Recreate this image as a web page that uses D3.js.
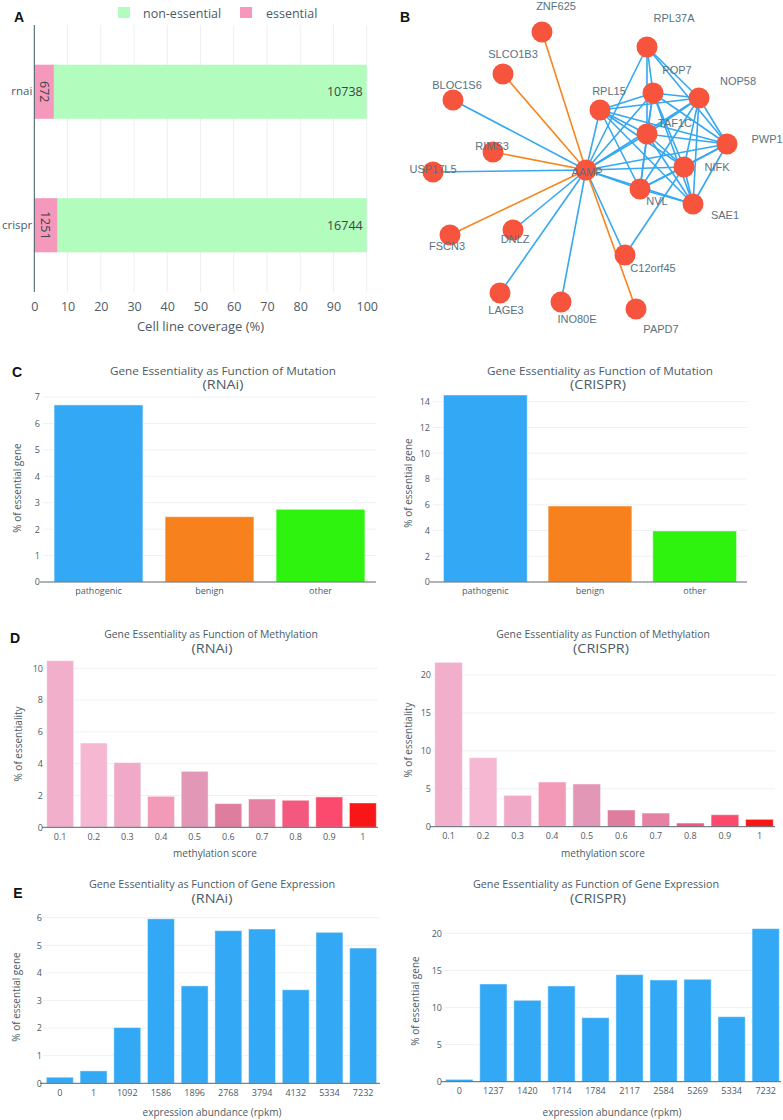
<!DOCTYPE html>
<html><head><meta charset="utf-8">
<script src="https://cdn.jsdelivr.net/npm/d3@7"></script>
<style>body{margin:0;background:#fff}svg{display:block}</style>
</head><body>
<script>
// ---------------- DATA ----------------
const coverageCats = ["rnai", "crispr"];
const essentialCounts = [672, 1251];
const nonEssentialCounts = [10738, 16744];
const coverageTicks = [0,10,20,30,40,50,60,70,80,90,100];
const legendLabels = ["non-essential", "essential"];

const mutationCats = ["pathogenic", "benign", "other"];
const mutationRNAi = [6.70, 2.47, 2.75];
const mutationCRISPR = [14.52, 5.90, 3.96];
const mutationColors = ["#33a9f5", "#f7811c", "#2ef30e"];

const methylationCats = ["0.1","0.2","0.3","0.4","0.5","0.6","0.7","0.8","0.9","1"];
const methylationRNAi = [10.48, 5.30, 4.07, 1.95, 3.52, 1.49, 1.78, 1.70, 1.91, 1.53];
const methylationCRISPR = [21.67, 9.10, 4.13, 5.89, 5.63, 2.20, 1.80, 0.48, 1.58, 0.97];
const methylationColors = ["#f2afcc","#f5b7d2","#f1a9c8","#f39ab9","#e297b6","#df7d9f","#e781a3","#f3597e","#fc4a6e","#f91616"];

const exprCatsRNAi = ["0","1","1092","1586","1896","2768","3794","4132","5334","7232"];
const exprRNAi = [0.22, 0.45, 2.02, 5.96, 3.53, 5.53, 5.59, 3.39, 5.47, 4.90];
const exprCatsCRISPR = ["0","1237","1420","1714","1784","2117","2584","5269","5334","7232"];
const exprCRISPR = [0.31, 13.17, 10.97, 12.90, 8.63, 14.43, 13.71, 13.80, 8.76, 20.63];
const exprColor = "#33a9f5";

// network (layout coordinates in panel units)
const nodeNames = ["ZNF625","SLCO1B3","BLOC1S6","RIMS3","USP17L5","AAMP","FSCN3","DNLZ","LAGE3","INO80E","PAPD7","C12orf45","RPL37A","POP7","NOP58","RPL15","TAF1C","PWP1","NIFK","NVL","SAE1"];
const nodeX = [152,113,63,103,43,196,60,123,110,171,246,235,257,263,309,210,257,337,294,250,303];
const nodeY = [32,74,100,152,172,170,235,230,293,302,309,255,47,93,98,110,134,144,167,189,204];
const labelX = [166,123,67,102,43,197,57,125,116,187,271,263,284,287,348,219,285,377,327,267,335];
const labelY = [6,54,85,146,169,172,246,239,310,319,329,268,18,70,81,91,123,139,167,201,215];
const hub = "AAMP";
const orangeLinks = ["ZNF625","SLCO1B3","RIMS3","FSCN3","PAPD7"];
const blueHubLinks = ["BLOC1S6","USP17L5","DNLZ","LAGE3","INO80E","C12orf45","RPL15","RPL37A","POP7","NOP58","TAF1C","PWP1","NIFK","NVL","SAE1"];
const clusterLinks = [
 ["RPL15","POP7"],["RPL15","NOP58"],["RPL15","TAF1C"],["RPL15","PWP1"],["RPL15","NIFK"],["RPL15","NVL"],["RPL15","SAE1"],
 ["POP7","NOP58"],["POP7","TAF1C"],["POP7","PWP1"],["POP7","NIFK"],["POP7","NVL"],["POP7","SAE1"],
 ["NOP58","TAF1C"],["NOP58","PWP1"],["NOP58","NIFK"],["NOP58","NVL"],["NOP58","SAE1"],
 ["TAF1C","PWP1"],["TAF1C","NIFK"],["TAF1C","NVL"],["TAF1C","SAE1"],
 ["PWP1","NIFK"],["PWP1","NVL"],["PWP1","SAE1"],
 ["NIFK","NVL"],["NIFK","SAE1"],["NVL","SAE1"],
 ["RPL37A","POP7"],["RPL37A","NOP58"],["RPL37A","PWP1"],["RPL37A","TAF1C"],
 ["C12orf45","NIFK"]
];

// ---------------- DRAW ----------------
const W = 783, H = 1120;
const TXT = "#4c5b66";
const PF = "'Open Sans', 'DejaVu Sans', sans-serif";
const svg = d3.select("body").append("svg").attr("width", W).attr("height", H);
svg.append("rect").attr("width", W).attr("height", H).attr("fill", "#fff");

function letter(t, x, y) {
  svg.append("text").attr("x", x).attr("y", y).attr("text-anchor","middle").attr("dominant-baseline","central")
    .attr("font-family","'Liberation Sans', Arial, sans-serif").attr("font-weight","bold").attr("font-size",14).attr("fill","#111").text(t);
}

// ---- Panel A ----
(function(){
  const x = d3.scaleLinear().domain([0,100]).range([34.3, 366.7]);
  const y = d3.scaleBand().domain(coverageCats).range([25, 292]);
  const g = svg.append("g");
  g.selectAll(".gx").data(coverageTicks.filter(d=>d>0)).join("line")
    .attr("x1", d=>x(d)).attr("x2", d=>x(d)).attr("y1",25).attr("y2",292).attr("stroke","#eceff3");
  const pct = coverageCats.map((c,i)=>100*essentialCounts[i]/(essentialCounts[i]+nonEssentialCounts[i]));
  const bh = y.bandwidth()*0.405;
  const cy = c => y(c) + y.bandwidth()/2;
  g.selectAll(".bn").data(coverageCats).join("rect")
    .attr("x", (c,i)=>x(pct[i])).attr("width",(c,i)=>x(100)-x(pct[i]))
    .attr("y", c=>cy(c)-bh/2).attr("height", bh).attr("fill","#b2fcbe");
  g.selectAll(".be").data(coverageCats).join("rect")
    .attr("x", x(0)).attr("width",(c,i)=>x(pct[i])-x(0))
    .attr("y", c=>cy(c)-bh/2).attr("height", bh).attr("fill","#f598bb");
  g.selectAll(".le").data(coverageCats).join("text")
    .attr("transform",(c,i)=>`translate(${(x(0)+x(pct[i]))/2},${cy(c)}) rotate(90)`)
    .attr("text-anchor","middle").attr("dominant-baseline","central")
    .attr("font-family",PF).attr("font-size",12.5).attr("fill","#444").text((c,i)=>essentialCounts[i]);
  g.selectAll(".ln").data(coverageCats).join("text")
    .attr("x", x(100)-4).attr("y", c=>cy(c)).attr("text-anchor","end").attr("dominant-baseline","central")
    .attr("font-family",PF).attr("font-size",12.5).attr("fill","#444").text((c,i)=>nonEssentialCounts[i]);
  g.append("line").attr("x1",x(0)).attr("x2",x(0)).attr("y1",25).attr("y2",292).attr("stroke","#3d5866").attr("stroke-width",1);
  const xa = g.append("g").attr("transform","translate(0,292)")
    .call(d3.axisBottom(x).tickValues(coverageTicks).tickFormat(d3.format("d")).tickSize(0).tickPadding(10));
  xa.select(".domain").remove();
  xa.selectAll("text").attr("font-family",PF).attr("font-size",12.5).attr("fill",TXT);
  const ya = g.append("g").attr("transform",`translate(${x(0)},0)`)
    .call(d3.axisLeft(y).tickSize(0).tickPadding(2));
  ya.select(".domain").remove();
  ya.selectAll("text").attr("font-family",PF).attr("font-size",11.5).attr("fill",TXT);
  g.append("text").attr("x",(x(0)+x(100))/2).attr("y",326).attr("text-anchor","middle").attr("dominant-baseline","central")
    .attr("font-family",PF).attr("font-size",13).attr("fill",TXT).text("Cell line coverage (%)");
  const lg = [{c:"#b2fcbe", sx:118, tx:143},{c:"#f598bb", sx:240, tx:266}];
  lg.forEach((l,i)=>{
    g.append("rect").attr("x",l.sx).attr("y",7).attr("width",12).attr("height",11).attr("fill",l.c);
    g.append("text").attr("x",l.tx).attr("y",13).attr("dominant-baseline","central")
      .attr("font-family",PF).attr("font-size",12.5).attr("fill",TXT).text(legendLabels[i]);
  });
  letter("A", 19, 17);
})();

// ---- Panel B ----
(function(){
  const sx = d3.scaleLinear().domain([0,393]).range([390,783]);
  const sy = d3.scaleLinear().domain([0,330]).range([0,330]);
  const idx = n => nodeNames.indexOf(n);
  const links = [];
  blueHubLinks.forEach(n=>links.push({a:hub,b:n,c:"#35a8f0"}));
  clusterLinks.forEach(([a,b])=>links.push({a,b,c:"#35a8f0"}));
  orangeLinks.forEach(n=>links.push({a:hub,b:n,c:"#f7851e"}));
  const g = svg.append("g");
  g.selectAll("line").data(links).join("line")
    .attr("x1",d=>sx(nodeX[idx(d.a)])).attr("y1",d=>sy(nodeY[idx(d.a)]))
    .attr("x2",d=>sx(nodeX[idx(d.b)])).attr("y2",d=>sy(nodeY[idx(d.b)]))
    .attr("stroke",d=>d.c).attr("stroke-width",1.6);
  g.selectAll("circle").data(nodeNames).join("circle")
    .attr("cx",(d,i)=>sx(nodeX[i])).attr("cy",(d,i)=>sy(nodeY[i])).attr("r",10.5).attr("fill","#f6543c");
  g.selectAll("text").data(nodeNames).join("text")
    .attr("x",(d,i)=>sx(labelX[i])).attr("y",(d,i)=>sy(labelY[i]))
    .attr("text-anchor","middle").attr("dominant-baseline","central")
    .attr("font-family","'Liberation Sans', Arial, sans-serif").attr("font-size",11).attr("fill","#587282").text(d=>d);
  letter("B", 405, 17);
})();

// ---- generic bar chart ----
function barChart(o) {
  const x = d3.scaleBand().domain(o.cats).range([o.x0, o.x1]).paddingInner(0.2).paddingOuter(o.outer);
  const y = d3.scaleLinear().domain([0, o.tMax]).range([o.yBase, o.yTopT]);
  const g = svg.append("g");
  g.selectAll(".grid").data(o.ticks.filter(t=>t>0)).join("line")
    .attr("x1",o.x0).attr("x2",o.x1).attr("y1",d=>y(d)).attr("y2",d=>y(d)).attr("stroke","#eef1f6");
  g.selectAll(".bar").data(o.vals).join("rect")
    .attr("x",(d,i)=>x(o.cats[i])).attr("width",x.bandwidth())
    .attr("y",d=>y(d)).attr("height",d=>y(0)-y(d))
    .attr("fill",(d,i)=>Array.isArray(o.colors)?o.colors[i]:o.colors)
    .attr("stroke","rgba(255,255,255,0.45)").attr("stroke-width",1);
  g.append("line").attr("x1",o.x0-3).attr("x2",o.x1).attr("y1",y(0)).attr("y2",y(0)).attr("stroke","#5b6670").attr("stroke-width",1);
  const ya = g.append("g").attr("transform",`translate(${o.x0},0)`)
    .call(d3.axisLeft(y).tickValues(o.ticks).tickFormat(d3.format("d")).tickSize(0).tickPadding(o.x0-o.tickX));
  ya.select(".domain").remove();
  ya.selectAll("text").attr("font-family",PF).attr("font-size",9).attr("fill",TXT);
  const xa = g.append("g").attr("transform",`translate(0,${y(0)})`)
    .call(d3.axisBottom(x).tickSize(0).tickPadding(o.xTickPad));
  xa.select(".domain").remove();
  xa.selectAll("text").attr("font-family",PF).attr("font-size",9).attr("fill",TXT);
  g.append("text").attr("transform",`translate(${o.titleX},${o.titleY}) scale(${o.tScale},1)`).attr("text-anchor","middle").attr("dominant-baseline","central")
    .attr("font-family",PF).attr("font-size",o.tSize).attr("fill",TXT).text(o.title);
  g.append("text").attr("transform",`translate(${o.subX},${o.subY}) scale(1.15,1)`).attr("text-anchor","middle").attr("dominant-baseline","central")
    .attr("font-family",PF).attr("font-size",12.5).attr("fill",TXT).text(o.sub);
  g.append("text").attr("transform",`translate(${o.ytX},${o.ytY}) rotate(-90)`).attr("text-anchor","middle").attr("dominant-baseline","central")
    .attr("font-family",PF).attr("font-size",10).attr("fill",TXT).text(o.ytitle);
  if (o.xtitle) g.append("text").attr("x",o.xtX).attr("y",o.xtY).attr("text-anchor","middle").attr("dominant-baseline","central")
    .attr("font-family",PF).attr("font-size",10).attr("fill",TXT).text(o.xtitle);
}

// ---- Panel C ----
barChart({cats:mutationCats, vals:mutationRNAi, colors:mutationColors, x0:43, x1:376, outer:0.1,
  yBase:582, tMax:7, yTopT:397, ticks:[0,1,2,3,4,5,6,7], tickX:40, xTickPad:6,
  title:"Gene Essentiality as Function of Mutation", sub:"(RNAi)", titleX:223, subX:223, titleY:371, subY:384.5, tSize:10.8, tScale:1.09,
  ytitle:"% of essential gene", ytX:17, ytY:488});
barChart({cats:mutationCats, vals:mutationCRISPR, colors:mutationColors, x0:433, x1:747, outer:0.1,
  yBase:582, tMax:14, yTopT:401.7, ticks:[0,2,4,6,8,10,12,14], tickX:430, xTickPad:6,
  title:"Gene Essentiality as Function of Mutation", sub:"(CRISPR)", titleX:600, subX:598, titleY:371, subY:384.5, tSize:10.8, tScale:1.09,
  ytitle:"% of essential gene", ytX:408, ytY:483});
letter("C", 17, 372);

// ---- Panel D ----
barChart({cats:methylationCats, vals:methylationRNAi, colors:methylationColors, x0:45, x1:378, outer:0.05,
  yBase:827.3, tMax:10, yTopT:668.3, ticks:[0,2,4,6,8,10], tickX:43, xTickPad:6,
  title:"Gene Essentiality as Function of Methylation", sub:"(RNAi)", titleX:211, subX:212, titleY:634.5, subY:648, tSize:10.2, tScale:1.02,
  ytitle:"% of essentiality", ytX:18, ytY:744, xtitle:"methylation score", xtX:215, xtY:853});
barChart({cats:methylationCats, vals:methylationCRISPR, colors:methylationColors, x0:433, x1:775, outer:0.05,
  yBase:826.7, tMax:20, yTopT:675, ticks:[0,5,10,15,20], tickX:431, xTickPad:6,
  title:"Gene Essentiality as Function of Methylation", sub:"(CRISPR)", titleX:603, subX:601, titleY:634.5, subY:648, tSize:10.2, tScale:1.02,
  ytitle:"% of essentiality", ytX:408, ytY:740, xtitle:"methylation score", xtX:603, xtY:853});
letter("D", 15, 638);

// ---- Panel E ----
barChart({cats:exprCatsRNAi, vals:exprRNAi, colors:exprColor, x0:43, x1:380, outer:0.1,
  yBase:1083.3, tMax:6, yTopT:917.7, ticks:[0,1,2,3,4,5,6], tickX:42, xTickPad:6,
  title:"Gene Essentiality as Function of Gene Expression", sub:"(RNAi)", titleX:212, subX:212, titleY:884, subY:898, tSize:10.2, tScale:1.06,
  ytitle:"% of essential gene", ytX:16, ytY:997, xtitle:"expression abundance (rpkm)", xtX:212, xtY:1112});
barChart({cats:exprCatsCRISPR, vals:exprCRISPR, colors:exprColor, x0:444, x1:781, outer:0.05,
  yBase:1081.7, tMax:20, yTopT:933.3, ticks:[0,5,10,15,20], tickX:442, xTickPad:6,
  title:"Gene Essentiality as Function of Gene Expression", sub:"(CRISPR)", titleX:596, subX:598, titleY:884, subY:898, tSize:10.2, tScale:1.06,
  ytitle:"% of essential gene", ytX:415, ytY:1001, xtitle:"expression abundance (rpkm)", xtX:612, xtY:1112});
letter("E", 18, 893);
</script>
</body></html>
